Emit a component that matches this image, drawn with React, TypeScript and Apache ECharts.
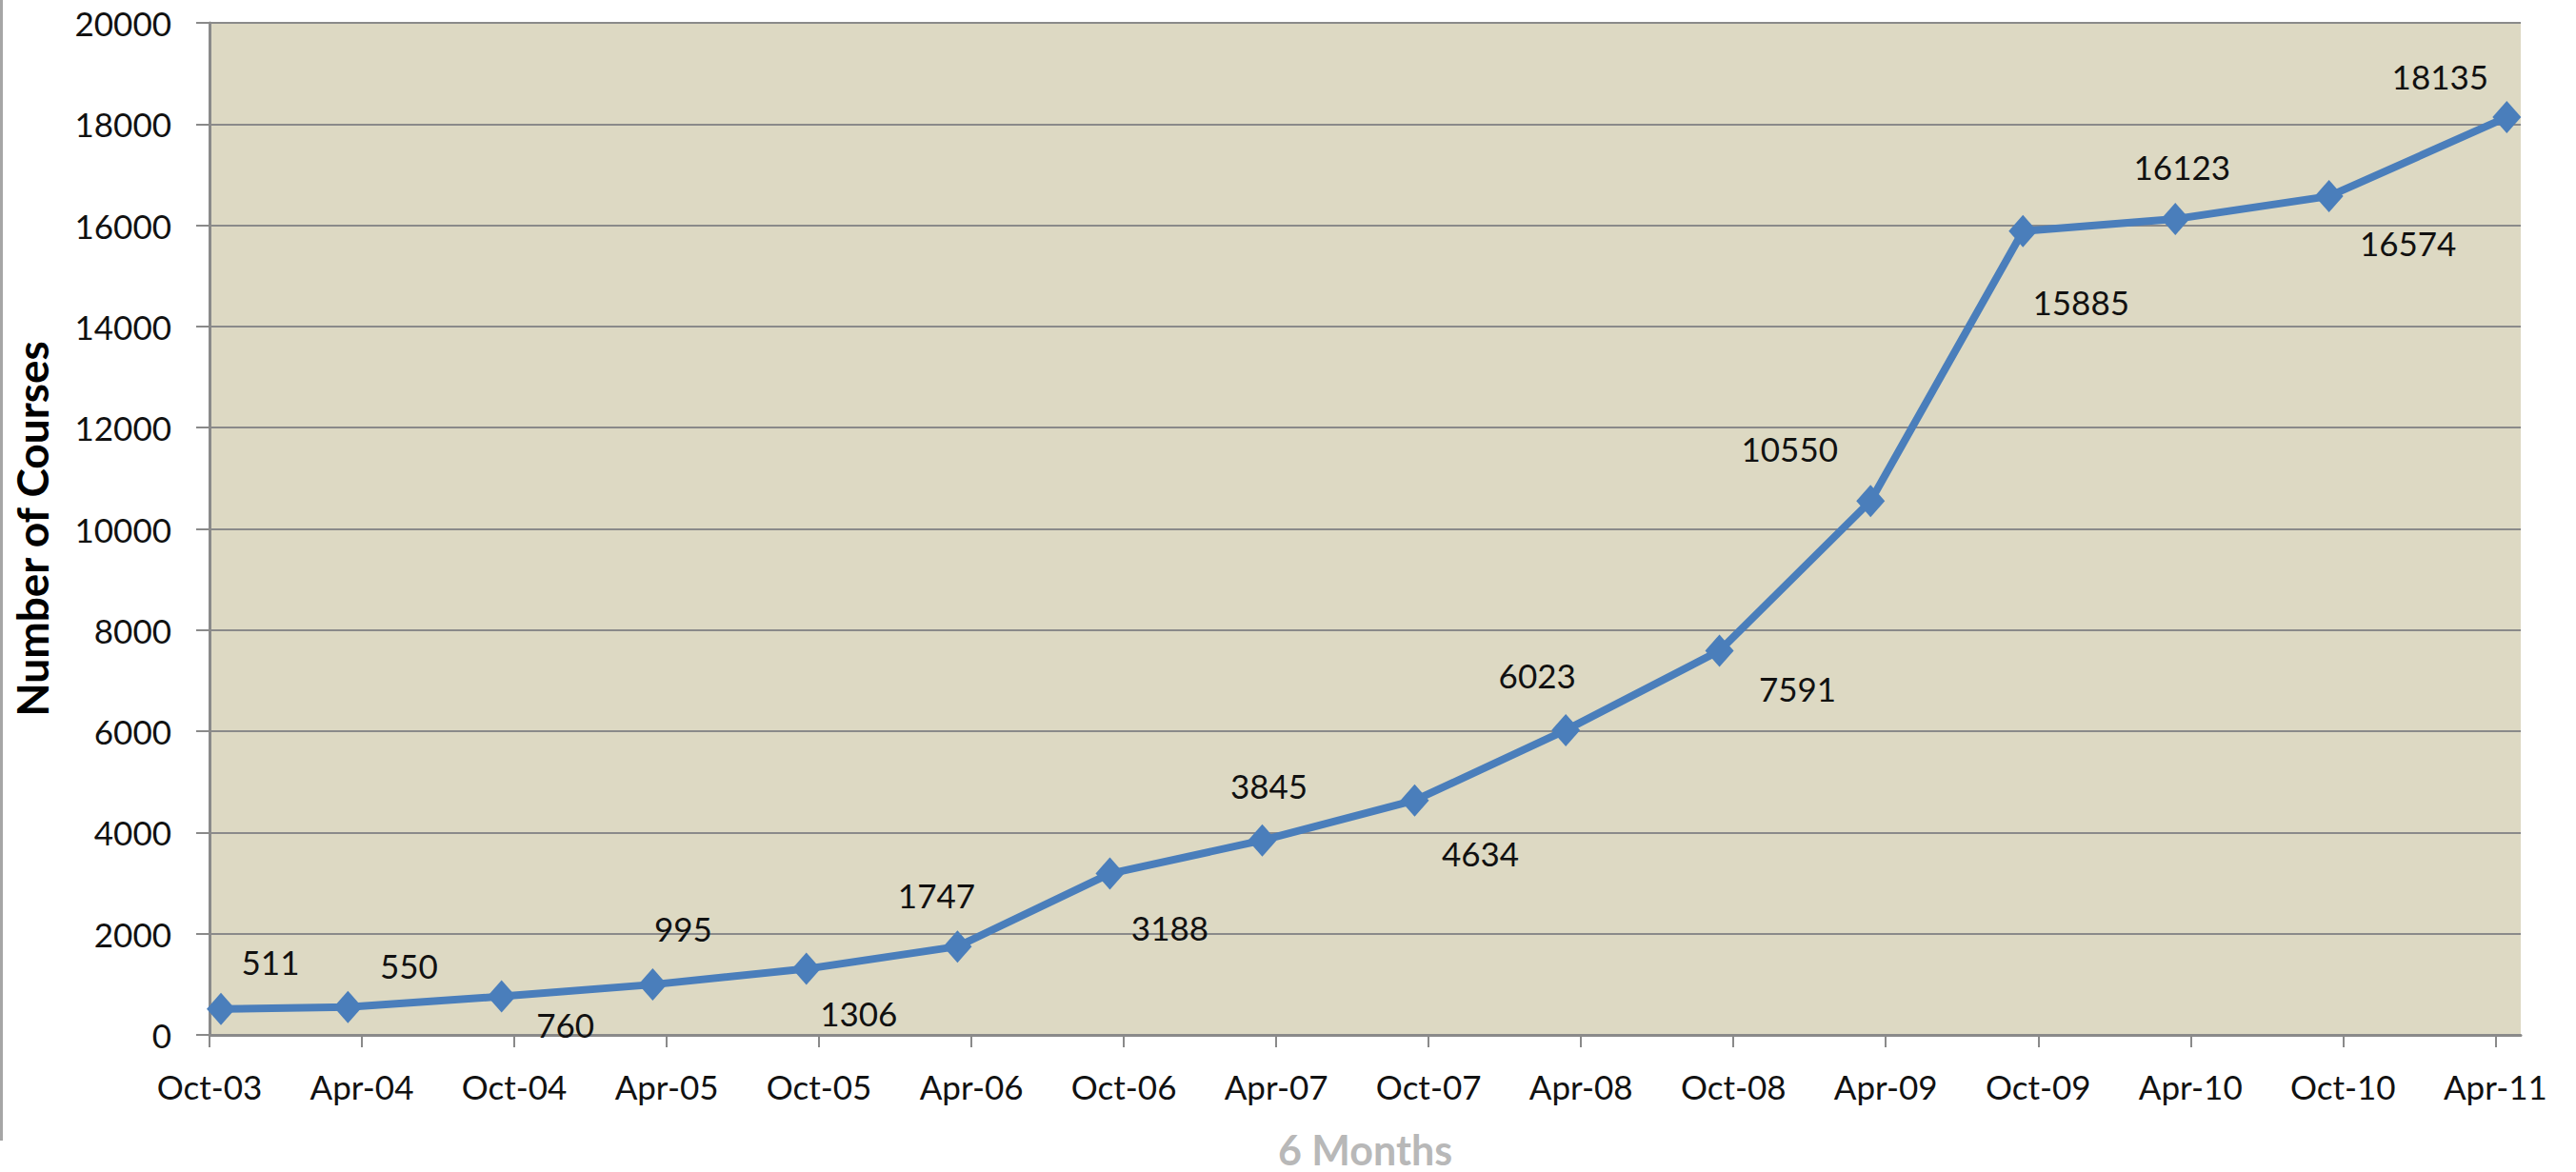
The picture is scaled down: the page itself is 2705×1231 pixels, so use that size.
import React, { useEffect, useRef } from "react";
import * as echarts from "echarts";

// Tick labels along the date axis (one every 6 months, starting Oct-03)
const tickLabels = [
  "Oct-03", "Apr-04", "Oct-04", "Apr-05", "Oct-05", "Apr-06", "Oct-06", "Apr-07",
  "Oct-07", "Apr-08", "Oct-08", "Apr-09", "Oct-09", "Apr-10", "Oct-10", "Apr-11",
];
const pointMonths = [
  0.45, 5.45, 11.5, 17.45, 23.5, 29.45, 35.45, 41.45,
  47.45, 53.4, 59.45, 65.4, 71.4, 77.4, 83.45, 90.45,
];
// Number of courses
const courses = [
  511, 550, 760, 995, 1306, 1747, 3188, 3845,
  4634, 6023, 7591, 10550, 15885, 16123, 16574, 18135,
];
const yTicks = { min: 0, max: 20000, interval: 2000 };
const xAxisMaxMonths = 91;
const monthsPerTick = 6;

// label placement (px offsets from each marker), layout only
const labelOffsets: [number, number][] = [
  [52, -50], [64, -44], [67, 29], [32, -59], [55, 46], [-22, -54], [63, 56], [7, -58],
  [69, 55], [-30, -58], [82, 39], [-85, -55], [61, 74], [7, -55], [83, 49], [-70, -43],
];

const FONT = "Lato";
const GRID_GRAY = "#8a8a8a";

export default function App() {
  const ref = useRef<HTMLDivElement>(null);
  useEffect(() => {
    if (!ref.current) return;
    const chart = echarts.init(ref.current, undefined, { renderer: "svg" });
    const tickValues = tickLabels.map((_, i) => i * monthsPerTick);
    chart.setOption({
      animation: false,
      backgroundColor: "#ffffff",
      grid: {
        left: 220,
        right: 58,
        top: 24,
        bottom: 144,
        containLabel: false,
        outerBoundsMode: "none",
        show: true,
        backgroundColor: "#DDD9C3",
        borderWidth: 0,
      },
      xAxis: {
        type: "value",
        min: 0,
        max: xAxisMaxMonths,
        name: "6 Months",
        nameLocation: "middle",
        nameGap: 98,
        nameTextStyle: {
          fontFamily: FONT,
          fontSize: 43,
          lineHeight: 44,
          fontWeight: "bold",
          color: "#b8b8b8",
        },
        axisLine: { show: true, lineStyle: { color: GRID_GRAY, width: 3 } },
        axisTick: {
          show: true,
          inside: false,
          length: 13,
          customValues: tickValues,
          lineStyle: { color: GRID_GRAY, width: 2 },
        },
        axisLabel: {
          customValues: tickValues,
          margin: 36,
          fontFamily: FONT,
          fontSize: 35,
          color: "#111",
          formatter: (v: number) => tickLabels[Math.round(v / monthsPerTick)] ?? "",
        },
        splitLine: { show: false },
      },
      yAxis: {
        type: "value",
        min: yTicks.min,
        max: yTicks.max,
        interval: yTicks.interval,
        name: "Number of Courses",
        nameLocation: "middle",
        nameGap: 164,
        nameRotate: 90,
        nameTextStyle: { fontFamily: FONT, fontSize: 46, fontWeight: "bold", color: "#000" },
        axisLine: { show: true, lineStyle: { color: GRID_GRAY, width: 3 } },
        axisTick: { show: true, inside: false, length: 14, lineStyle: { color: GRID_GRAY, width: 2 } },
        axisLabel: {
          margin: 40,
          fontFamily: FONT,
          fontSize: 35,
          color: "#111",
          formatter: (v: number) => String(v),
        },
        splitLine: { show: true, lineStyle: { color: GRID_GRAY, width: 2 } },
      },
      graphic: [
        { type: "rect", left: 0, top: 0, shape: { width: 3, height: 1198 }, style: { fill: "#a6a6a6" } },
      ],
      series: [
        {
          type: "line",
          data: courses.map((v, i) => ({
            value: [pointMonths[i], v],
            label: { offset: labelOffsets[i] },
          })),
          symbol: "diamond",
          symbolSize: [30, 34],
          itemStyle: { color: "#4A7EBB" },
          lineStyle: { color: "#4A7EBB", width: 8 },
          label: {
            show: true,
            position: "inside",
            fontFamily: FONT,
            fontSize: 35,
            color: "#111",
            textBorderWidth: 0,
            align: "center",
            verticalAlign: "middle",
            formatter: (p: any) => String(p.value[1]),
          },
          z: 3,
        },
      ],
    });
    return () => chart.dispose();
  }, []);
  return (
    <div
      ref={ref}
      style={{ position: "absolute", left: 0, top: 0, width: 2705, height: 1231 }}
    />
  );
}
